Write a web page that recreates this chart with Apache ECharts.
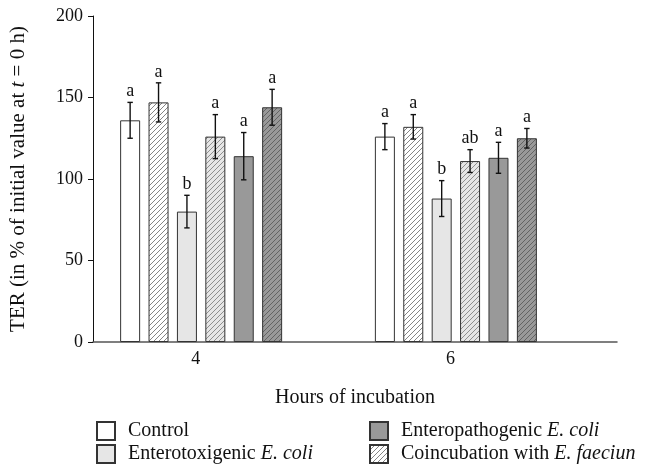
<!DOCTYPE html>
<html>
<head>
<meta charset="utf-8">
<script src="https://cdn.jsdelivr.net/npm/echarts@6/dist/echarts.min.js"></script>
<style>html,body{margin:0;padding:0;background:#fff}#c{width:649px;height:469px}</style>
</head>
<body>
<div id="c"></div>
<script>
// ---- data ----
const hours = [4, 6];
const seriesNames = ['Control', 'Coincubation with E. faeciun', 'Enterotoxigenic E. coli', 'ETEC + E. faecium', 'Enteropathogenic E. coli', 'EPEC + E. faecium'];
const control = [136, 126];
const controlFae = [147, 132];
const etec = [80, 88];
const etecFae = [126, 111];
const epec = [114, 113];
const epecFae = [144, 125];
const controlErr = [11, 8];
const controlFaeErr = [12, 7.5];
const etecErr = [10, 11];
const etecFaeErr = [13.5, 7];
const epecErr = [14.5, 9.5];
const epecFaeErr = [11, 6];
const controlLet = ['a', 'a'];
const controlFaeLet = ['a', 'a'];
const etecLet = ['b', 'b'];
const etecFaeLet = ['a', 'ab'];
const epecLet = ['a', 'a'];
const epecFaeLet = ['a', 'a'];
const yTicks = [0, 50, 100, 150, 200];

const values = [control, controlFae, etec, etecFae, epec, epecFae];
const errs = [controlErr, controlFaeErr, etecErr, etecFaeErr, epecErr, epecFaeErr];
const lets = [controlLet, controlFaeLet, etecLet, etecFaeLet, epecLet, epecFaeLet];

const FONT = '"Liberation Serif", "DejaVu Serif", serif';

function hatch(bg, line) {
  const c = document.createElement('canvas');
  c.width = c.height = 5;
  const ctx = c.getContext('2d');
  ctx.fillStyle = bg; ctx.fillRect(0, 0, 5, 5);
  ctx.strokeStyle = line; ctx.lineWidth = 0.8;
  ctx.beginPath();
  ctx.moveTo(0, 5); ctx.lineTo(5, 0);
  ctx.moveTo(-1, 1); ctx.lineTo(1, -1);
  ctx.moveTo(4, 6); ctx.lineTo(6, 4);
  ctx.stroke();
  return { image: c, repeat: 'repeat' };
}

const fills = [
  '#ffffff',
  hatch('#ffffff', '#666666'),
  '#e6e6e6',
  hatch('#e6e6e6', '#777777'),
  '#999999',
  hatch('#999999', '#555555')
];

const BAR_W = 20, PITCH = 28.4;

const series = [];
values.forEach((vals, k) => {
  series.push({
    type: 'bar',
    name: seriesNames[k],
    data: hours.map((h, i) => [h, vals[i]]),
    barWidth: BAR_W,
    barGap: ((PITCH - BAR_W) / BAR_W * 100).toFixed(1) + '%',
    itemStyle: { color: fills[k], borderColor: '#333', borderWidth: 1 },
    z: 2
  });
});

const errData = [];
values.forEach((vals, k) => {
  hours.forEach((h, i) => errData.push([h, vals[i], errs[k][i], k, lets[k][i]]));
});

series.push({
  type: 'custom',
  name: 'err',
  data: errData,
  z: 5,
  renderItem: function (params, api) {
    const h = api.value(0), v = api.value(1), e = api.value(2), k = api.value(3);
    const letter = errData[params.dataIndex][4];
    const dx = (k - 2.5) * PITCH;
    const top = api.coord([h, v + e]);
    const bot = api.coord([h, v - e]);
    const x = top[0] + dx;
    const cap = 2.7;
    const st = { stroke: '#111', lineWidth: 1.4 };
    return {
      type: 'group',
      children: [
        { type: 'line', shape: { x1: x, y1: top[1], x2: x, y2: bot[1] }, style: st },
        { type: 'line', shape: { x1: x - cap, y1: top[1], x2: x + cap, y2: top[1] }, style: st },
        { type: 'line', shape: { x1: x - cap, y1: bot[1], x2: x + cap, y2: bot[1] }, style: st },
        { type: 'text', style: { text: letter, x: x, y: top[1] - 2, align: 'center', verticalAlign: 'bottom', font: '18px ' + FONT, fill: '#111' } }
      ]
    };
  }
});

function legendFmt(name) {
  return name.replace(/(E\. \w+)/, '{i|$1}');
}
const LFS = 20;
const legendText = {
  fontFamily: FONT, fontSize: LFS, lineHeight: 20, color: '#111', padding: [0, 0, 0, 8],
  rich: { i: { fontFamily: FONT, fontSize: LFS, lineHeight: 20, fontStyle: 'italic', color: '#111' } }
};
function legendAt(name, left, top) {
  return {
    left: left, top: top, orient: 'horizontal', padding: 0,
    itemWidth: 18, itemHeight: 18, icon: 'rect',
    data: [name], formatter: legendFmt, textStyle: legendText, selectedMode: false
  };
}

const option = {
  animation: false,
  backgroundColor: '#fff',
  grid: { left: 92, right: 32, top: 16, height: 326 },
  xAxis: {
    type: 'value',
    min: 3.151, max: 7.265,
    splitLine: { show: false },
    axisLine: { show: true, lineStyle: { color: '#555', width: 1.5 } },
    axisTick: { show: false },
    axisLabel: { customValues: hours, fontFamily: FONT, fontSize: 18, color: '#111', margin: 8, padding: [0, 11, 0, 0] },
    name: 'Hours of incubation',
    nameLocation: 'middle',
    nameGap: 46,
    nameTextStyle: { fontFamily: FONT, fontSize: 20, color: '#111' }
  },
  yAxis: {
    type: 'value',
    min: 0, max: 200, interval: 50,
    splitLine: { show: false },
    axisLine: { show: true, lineStyle: { color: '#111', width: 1 } },
    axisTick: { show: true, inside: false, length: 5, lineStyle: { color: '#111' } },
    axisLabel: { fontFamily: FONT, fontSize: 18, color: '#111', margin: 10 },
    name: 'TER (in % of initial value at {i|t} = 0 h)',
    nameLocation: 'middle',
    nameGap: 64,
    nameTextStyle: {
      fontFamily: FONT, fontSize: 21, color: '#111',
      rich: { i: { fontFamily: FONT, fontSize: 21, fontStyle: 'italic', color: '#111' } }
    }
  },
  legend: [
    legendAt('Control', 96, 421),
    legendAt('Enterotoxigenic E. coli', 96, 444),
    legendAt('Enteropathogenic E. coli', 369, 421),
    legendAt('Coincubation with E. faeciun', 369, 444)
  ],
  series: series
};

const chart = echarts.init(document.getElementById('c'), null, { renderer: 'canvas' });
chart.setOption(option);
</script>
</body>
</html>
